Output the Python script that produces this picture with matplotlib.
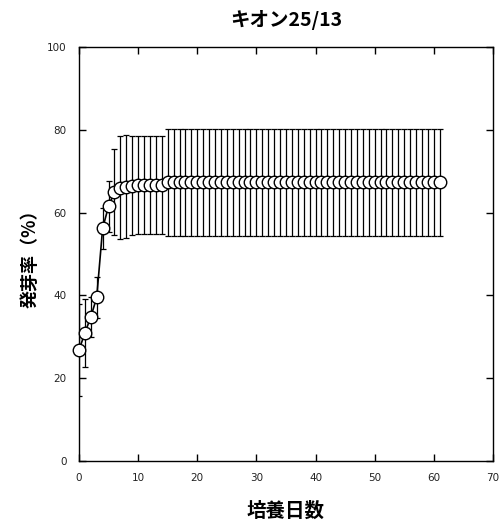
import matplotlib
matplotlib.use('Agg')
import matplotlib.pyplot as plt

# germination rate per culture day (mean and standard deviation)
days = list(range(62))
rate = [26.8, 30.9, 34.8, 39.5, 56.2, 61.5, 65.0, 66.0, 66.3, 66.5,
        66.7, 66.7, 66.7, 66.7, 66.7] + [67.3] * 47
err = [11.1, 8.3, 4.8, 5.0, 5.0, 6.2, 10.3, 12.4, 12.4, 12.0,
       11.8, 11.8, 11.8, 11.8, 11.8] + [12.9] * 47

title = 'キオン25/13'
xlabel = '培養日数'
ylabel = '発芽率（%）'
xticks = [0, 10, 20, 30, 40, 50, 60, 70]
yticks = [0, 20, 40, 60, 80, 100]

jp = ['Noto Sans CJK JP', 'DejaVu Sans']

fig = plt.figure(figsize=(5.03, 5.26), dpi=100)
ax = fig.add_axes([0.157, 0.1236, 0.823, 0.787])

# error bars first, then the open circles on top
ax.errorbar(days, rate, yerr=err, fmt='none', ecolor='black',
            elinewidth=0.9, capsize=2.5, capthick=0.9, zorder=2)
ax.plot(days, rate, color='black', linewidth=1.2, zorder=3)
for d, r in zip(days, rate):
    ax.plot(d, r, 'o', markersize=9, markerfacecolor='white',
            markeredgecolor='black', markeredgewidth=1.0, zorder=4,
            clip_on=False)

ax.set_xlim(0, 70)
ax.set_ylim(0, 100)
ax.set_xticks(xticks)
ax.set_yticks(yticks)
ax.tick_params(direction='in', length=5, width=1, top=True, right=True,
               labelsize=7.5, labelcolor='#222222', pad=9)
for s in ax.spines.values():
    s.set_linewidth(1.0)

ax.set_title(title, family=jp, fontweight='bold', fontsize=14, pad=15)
ax.set_xlabel(xlabel, family=jp, fontweight='bold', fontsize=14, labelpad=13)
ax.set_ylabel(ylabel, family=jp, fontweight='bold', fontsize=13, labelpad=5)

fig.savefig('out.png', dpi=100)
